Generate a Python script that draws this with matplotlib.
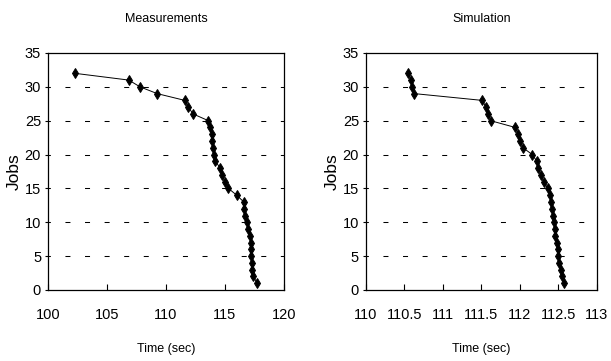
import matplotlib
import matplotlib.pyplot as plt

matplotlib.use("Agg")

# jobs remaining vs. time
jobs = list(range(32, 0, -1))

meas_time = [
    102.27, 106.85, 107.8, 109.26, 111.6, 111.9, 112.3, 113.6,
    113.7, 113.9, 113.9, 114.0, 114.06, 114.2, 114.6, 114.75,
    115.0, 115.3, 116.0, 116.6, 116.65, 116.7, 116.9, 117.0,
    117.1, 117.2, 117.2, 117.2, 117.3, 117.3, 117.4, 117.75,
]
sim_time = [
    110.54, 110.59, 110.6, 110.63, 111.51, 111.56, 111.59, 111.62,
    111.94, 111.98, 112.0, 112.04, 112.16, 112.22, 112.24, 112.27,
    112.31, 112.36, 112.39, 112.4, 112.41, 112.43, 112.44, 112.45,
    112.46, 112.48, 112.5, 112.5, 112.51, 112.53, 112.55, 112.57,
]

meas_xticks = [100, 105, 110, 115, 120]
meas_xlabels = ["100", "105", "110", "115", "120"]
sim_xticks = [110, 110.5, 111, 111.5, 112, 112.5, 113]
sim_xlabels = ["110", "110.5", "111", "111.5", "112", "112.5", "113"]
yticks = [0, 5, 10, 15, 20, 25, 30, 35]

FONT = ["Liberation Sans", "DejaVu Sans"]

plt.rcParams["lines.scale_dashes"] = False
plt.rcParams["font.family"] = FONT

fig = plt.figure(figsize=(6.11, 3.61), dpi=100)
ax1 = fig.add_axes([0.0786, 0.1967, 0.386, 0.6565])
ax2 = fig.add_axes([0.599, 0.1967, 0.378, 0.6565])


def draw(ax, t, title, xlim, xticks, xlabels):
    for y in yticks[1:-1]:
        ax.axhline(y, color="black", lw=0.75, linestyle=(1.9, (3.6, 10.5)), zorder=1)
    ax.plot(t, jobs, color="black", lw=0.7, marker="d", markersize=4.8,
            markeredgewidth=0.7, zorder=3)
    ax.set_xlim(*xlim)
    ax.set_ylim(0, 35)
    ax.set_xticks(xticks)
    ax.set_xticklabels(xlabels, fontsize=10.5)
    ax.set_yticks(yticks)
    ax.set_yticklabels([str(v) for v in yticks], fontsize=10.5)
    ax.tick_params(axis="x", direction="in", length=4, width=0.8, pad=13)
    ax.tick_params(axis="y", direction="out", length=2, width=0.8, pad=3)
    for s in ax.spines.values():
        s.set_linewidth(0.9)
    ax.set_title(title, fontsize=9, pad=22)
    ax.set_xlabel("Time (sec)", fontsize=9, labelpad=15)
    ax.set_ylabel("Jobs", fontsize=12.5, labelpad=2)


draw(ax1, meas_time, "Measurements", (100, 120), meas_xticks, meas_xlabels)
draw(ax2, sim_time, "Simulation", (110, 113), sim_xticks, sim_xlabels)

fig.savefig("out.png", dpi=100)
